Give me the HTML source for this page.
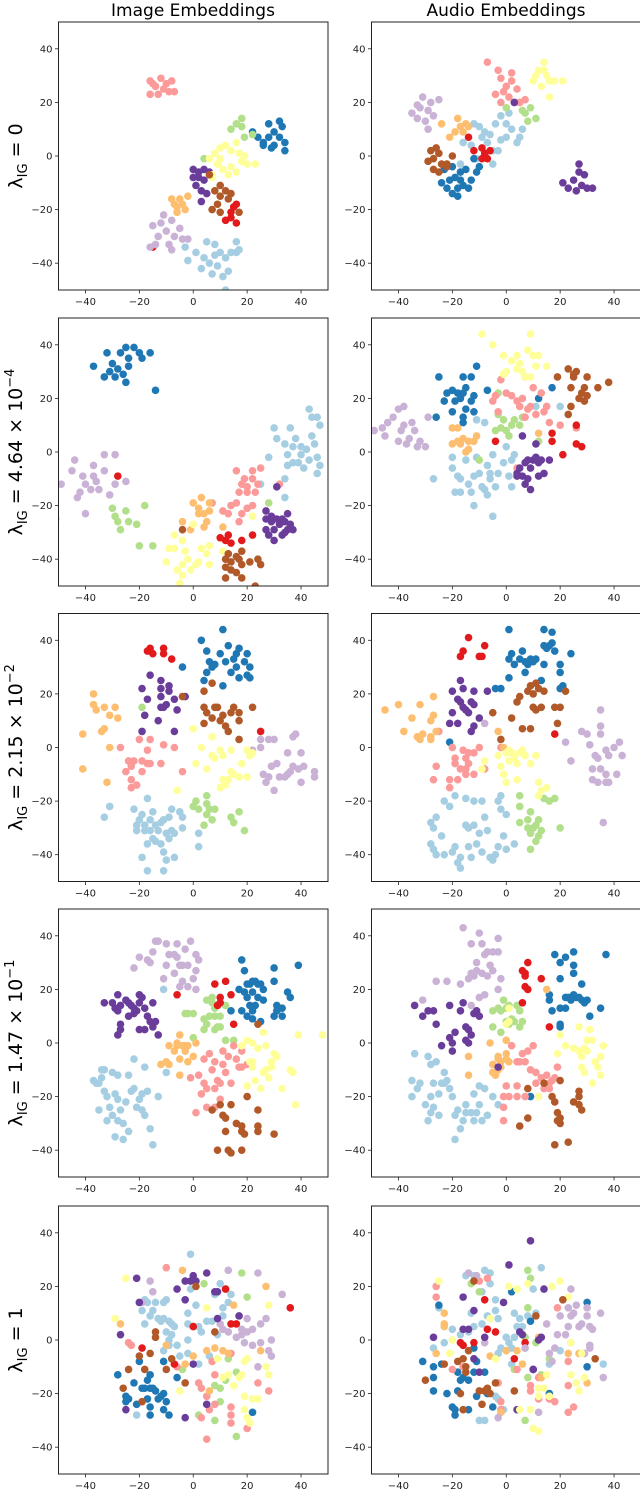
<!DOCTYPE html>
<html><head><meta charset="utf-8">
<style>
html,body{margin:0;padding:0;background:#fff;}
svg{display:block;font-family:"DejaVu Sans","Liberation Sans",sans-serif;}
</style></head>
<body>
<svg id="fig" width="640" height="1490" viewBox="0 0 640 1490" xmlns="http://www.w3.org/2000/svg">
<text x="193" y="16" font-size="17" text-anchor="middle" fill="#000">Image Embeddings</text>
<text x="506" y="16" font-size="17" text-anchor="middle" fill="#000">Audio Embeddings</text>
<g id="panels"></g>
</svg>
<script>
// class labels and colours (Paired colormap)
const classes = ['c0','c1','c2','c3','c4','c5','c6','c7','c8','c9'];
const classColors = ['#a6cee3','#1f78b4','#b2df8a','#fb9a99','#e31a1c','#fdbf6f','#cab2d6','#6a3d9a','#ffff99','#b15928'];
const tickValues = [-40,-20,0,20,40];
const tickLabels = ['\u221240','\u221220','0','20','40'];
const axisMin = -50, axisMax = 50;
const rowLabels = [['0',''],['4.64 \u00d7 10','\u22124'],['2.15 \u00d7 10','\u22122'],['1.47 \u00d7 10','\u22121'],['1','']];
// order: lightblue, blue, lightgreen, pink, red, lightorange, lavender, purple, yellow, brown
const img0 = [
"-3,-34 1,-36 3,-42 4,-38 5,-32 6,-40 8,-33 8,-37 10,-36 9,-41 12,-38 14,-36 16,-32 16,-36 13,-43 11,-45 -2,-39 7,-44 12,-50 17,-35",
"22,9 24,7 26,5 28,7 28,12 30,9 32,13 33,11 34,5 34,2 30,4 32,7 26,4 29,3",
"14,10 16,12 18,14 18,11 19,7 4,-1 22,8",
"-16,28 -14,26 -12,29 -10,27 -9,24 -13,23 -16,23 -8,28 -11,25 -7,24 -15,27",
"12,-24 14,-21 15,-19 16,-25 14,-23 16,-18 -15,-34",
"-8,-16 -6,-19 -4,-18 -2,-15 -3,-20 -6,-21 -5,-16 -7,-18",
"-15,-26 -12,-25 -10,-28 -8,-24 -7,-30 -5,-27 -9,-33 -8,-35 -13,-30 -16,-34 -14,-33 -2,-31 -4,-31 -11,-22",
"0,-5 2,-8 1,-11 3,-13 4,-5 6,-6 4,-9 2,-6 0,-8 5,-14 3,-17",
"6,-1 8,1 10,3 12,4 14,2 16,5 17,1 18,-2 20,-3 23,-3 14,-4 11,-5 9,-3 7,-7 13,-7 16,-6 19,0 10,-1 7,-8",
"6,-7 8,-13 10,-15 12,-13 14,-14 9,-18 10,-21 7,-20 10,-11 17,-21 13,-16"];
const aud0 = [
"-12,12 -10,11 -8,9 -6,8 -4,12 -2,15 0,12 2,10 -2,6 0,7 4,5 5,7 -5,2 -3,2 -9,7 -13,4 -16,5 -7,5 -11,-1 -5,-3 -17,-3 1,16 6,10",
"-20,-4 -19,-8 -17,-6 -15,-5 -13,-9 -14,-12 -16,-11 -18,-12 -20,-14 -22,-12 -21,-9 -18,-15 -24,-10 -12,-1 -10,-4 -11,-6 -23,-5 -17,-9",
"0,18 5,20 7,16 9,18 8,13 11,14 6,17",
"-7,35 -3,32 -2,29 0,26 2,28 4,25 1,22 -1,24 -4,23 3,20 5,20 7,21 -2,20 2,31",
"-14,7 -12,2 -9,3 -8,1 -7,-1 -9,-1 -6,2",
"-18,14 -17,11 -15,12 -19,9 -16,9 -21,7 -14,11 -24,12",
"-35,16 -33,19 -31,22 -29,17 -27,15 -30,13 -33,14 -28,20 -25,21 -29,10 -32,18",
"21,-10 23,-12 25,-9 27,-6 29,-7 28,-11 26,-13 30,-12 32,-12 27,-3 3,20",
"10,28 12,32 14,35 15,30 16,28 13,26 18,28 21,28 16,22 11,30 14,32",
"-28,2 -26,3 -25,1 -27,-1 -29,-2 -24,-3 -22,-3 -27,-5 -20,0 -25,-6 -22,-4"];
const img1 = [
"28,-2 30,9 31,5 34,3 35,-1 36,9 38,5 37,2 39,-4 40,-1 41,-6 42,1 43,16 44,13 45,3 46,13 46,-2 47,-5 47,10 46,-8 37,-4 35,-5 40,2 44,6 43,-3 34,-17 34,-10 25,-12",
"-37,32 -32,37 -30,33 -28,31 -27,37 -25,39 -24,35 -22,39 -20,37 -19,35 -16,37 -25,26 -26,29 -29,28 -31,30 -33,28 -14,23 -24,32",
"-30,-21 -29,-24 -28,-26 -27,-29 -25,-22 -24,-26 -21,-27 -20,-35 -18,-20 -15,-35 28,-19",
"16,-7 17,-15 18,-12 19,-10 20,-13 20,-15 22,-7 22,-10 23,-15 24,-12 25,-6 14,-20 16,-19 18,-23 20,-21 17,-26 7,-19 22,-20 13,-23 32,-12 11,-22",
"-28,-9 10,-32 12,-33 13,-31 18,-33 22,-31 14,-34",
"0,-19 2,-21 2,-23 3,-17 4,-23 5,-26 6,-19 6,-22 -4,-26 4,-28 -1,-29 11,-28",
"-49,-12 -45,-7 -44,-3 -42,-15 -41,-9 -40,-12 -38,-14 -37,-5 -36,-11 -35,-14 -33,-1 -33,-7 -31,-16 -29,-1 -29,-12 -25,-11 -40,-23 -51,-25 -37,-9 -43,-17",
"27,-22 27,-25 29,-26 30,-29 31,-25 32,-27 33,-25 34,-26 35,-23 35,-29 36,-27 37,-29 27,-29 28,-31 29,-24 33,-31 31,-13 30,-33 34,-30",
"-9,-36 -7,-36 -10,-41 -6,-44 -5,-49 -4,-42 -3,-37 -2,-40 -1,-44 0,-27 1,-42 2,-41 3,-36 5,-38 6,-35 6,-42 -7,-31 -4,-33 11,-37 22,-24 -4,-46",
"-4,-29 12,-40 13,-38 14,-41 16,-39 17,-40 18,-37 14,-44 12,-47 16,-45 18,-47 21,-41 24,-40 25,-42 23,-50 18,-42 12,-43"];
const aud1 = [
"-20,-2 -20,-6 -18,-9 -19,-15 -17,-15 -17,-10 -15,-3 -13,-15 -12,-9 -11,-2 -10,-8 -9,-13 -8,-14 -7,-16 -7,-5 -6,-10 -5,-1 -4,-13 -3,-8 -1,-4 0,2 1,-9 2,-13 3,-1 -12,-20 -5,-24 -14,-12 -6,-8 -27,-10 2,-3 11,17 20,17 -8,11 -11,12",
"-25,28 -23,19 -22,22 -20,23 -19,19 -18,22 -16,22 -16,28 -16,13 -15,16 -13,28 -12,21 -12,15 -11,32 -17,20 -20,15 -15,24 -13,19 -7,23 12,20 17,24 -26,13 -16,11",
"-3,22 -3,14 -2,9 -1,12 0,8 1,6 2,10 3,12 5,10 6,13 -4,8 -10,-3 12,4",
"-2,27 0,22 2,21 4,19 5,17 6,20 7,13 8,16 9,17 11,14 13,22 14,15 15,17 16,11 20,10 26,9 -5,19 -3,15 4,-6 -4,21 7,28 10,24",
"-4,4 17,7 17,4 21,-1 26,10 26,3 28,2",
"-20,9 -18,9 -18,4 -16,5 -14,4 -12,4 -11,6 -20,3 -17,3 -14,1 -15,0 12,7",
"-46,9 -44,11 -42,13 -40,16 -39,8 -38,10 -37,3 -36,5 -35,11 -34,8 -33,2 -32,4 -30,2 -29,13 -40,4 -49,8 -45,6 -38,17",
"4,-8 5,-6 6,-9 7,-4 8,-10 9,-6 10,-3 11,-2 12,-4 13,-3 7,-12 9,-14 4,-9 8,-3 12,-9 14,-8 16,-3 11,3 6,6",
"-9,44 -5,40 -1,36 0,30 2,34 4,36 5,33 6,30 7,28 8,38 9,44 10,36 11,32 12,36 9,28 15,32 -1,29 4,31",
"23,31 25,28 24,24 26,30 29,24 30,28 30,21 29,19 28,22 34,24 38,26 24,17 19,28 23,14 27,20 25,29"];
const img2 = [
"-33,-26 -31,-22 -22,-23 -21,-29 -21,-31 -20,-27 -19,-25 -18,-29 -17,-19 -16,-31 -16,-27 -15,-24 -15,-34 -14,-29 -13,-31 -12,-36 -11,-39 -10,-42 -10,-32 -9,-26 -8,-23 -8,-31 -7,-32 -7,-41 -5,-24 -4,-26 -4,-30 -11,-27 -14,-35 -17,-36 -18,-31 -19,-41 -17,-46 -11,-46 2,-32 2,-37 -12,-28 -9,-34",
"3,40 5,36 5,28 6,32 7,30 8,31 10,35 11,44 12,32 13,38 14,28 15,33 16,35 17,37 16,30 17,26 19,32 20,35 20,27 21,30 21,26 11,23 4,25 -4,30",
"-19,15 1,-20 5,-18 5,-21 6,-23 5,-25 7,-27 8,-23 4,-29 2,-23 14,-26 15,-28 17,-24 19,-31 0,-22",
"-27,0 -25,-9 -24,-5 -23,-7 -23,-12 -22,-5 -21,-14 -20,3 -19,-5 -19,-9 -17,-6 -16,3 -16,-6 -17,-1 -12,-6 -11,1 -7,0 -4,-9 -23,-15",
"-17,36 -16,37 -15,35 -11,37 -11,35 -8,33 25,6",
"-41,5 -37,20 -37,16 -36,14 -34,6 -33,7 -33,15 -31,12 -29,15 -28,11 -31,0 -32,-13 -41,-8",
"25,3 28,3 30,3 29,-7 28,-11 26,-10 27,-13 31,-6 32,-11 34,-11 35,-10 36,-9 37,4 38,5 40,-2 39,-8 40,-13 37,-7 41,-7 45,-9 45,-11 35,-2 30,-16 25,0 22,-1",
"-16,27 -19,22 -17,18 -12,25 -12,22 -12,19 -12,15 -11,15 -9,23 -9,21 -7,18 -6,14 -18,12 -13,10 -19,6 -7,6 -3,19 -10,16",
"0,7 3,0 1,-6 5,-8 7,4 7,-3 10,-1 11,-3 11,-12 12,-14 13,-12 14,-9 14,-1 15,-10 17,-11 18,-6 20,-1 20,-11 21,-3 10,-15 -6,-16 22,-2 8,-4",
"-4,19 4,21 4,15 5,13 4,9 7,11 7,24 8,15 9,15 10,10 11,12 12,8 13,6 14,13 15,15 17,13 17,10 22,15 17,3"];
const aud2 = [
"-28,-36 -27,-38 -27,-30 -26,-26 -24,-33 -23,-20 -21,-22 -20,-39 -19,-37 -19,-18 -18,-43 -17,-41 -15,-19 -15,-29 -14,-37 -14,-30 -12,-20 -11,-36 -10,-32 -9,-39 -9,-20 -8,-26 -7,-31 -6,-41 -5,-42 -4,-40 -3,-37 -2,-18 -2,-23 -3,-20 -1,-33 0,-25 0,-38 3,-36 -28,-28 -17,-45 -13,-41 -26,-40 -12,-29 -23,-40",
"1,44 1,33 2,35 3,31 5,33 6,36 7,32 8,31 9,33 10,32 11,33 14,44 14,38 14,31 15,37 16,38 17,39 17,43 18,36 20,31 20,22 21,23 20,28 24,35 -2,22 -4,22 -21,2 7,28 13,25 1,26",
"5,-18 5,-22 5,-28 8,-27 9,-24 9,-32 10,-30 11,-35 12,-27 12,-33 14,-19 13,-31 9,-38 18,-19 16,-20 20,-30 11,-29 8,-30",
"-25,6 -20,0 -19,-4 -19,-6 -18,-12 -17,-8 -15,-8 -15,-10 -14,-2 -14,-6 -12,-2 -12,-10 -10,0 -8,-8 -2,0 -26,-7 -27,-12 -21,-12 -21,-15 -16,-1 -15,-4",
"-17,34 -16,36 -14,41 -10,34 -9,34 -8,38 18,5",
"-45,14 -40,16 -38,6 -35,11 -32,16 -32,3 -31,5 -28,10 -28,4 -27,12 -27,19 -26,6 -3,6 -1,0 -28,3 -33,4",
"-8,9 28,6 30,5 31,1 35,5 35,8 35,14 37,-1 38,-3 33,-3 34,-4 32,-8 35,-8 37,-10 37,-13 32,-12 34,-13 38,-13 40,0 42,2 43,-3 41,-10 36,-28 24,-5 22,2",
"-20,21 -17,25 -16,22 -18,18 -17,17 -16,15 -15,14 -14,13 -12,21 -13,17 -12,8 -13,6 -18,9 -21,9 -20,13 -10,11 -7,21 -12,16",
"-8,-5 -9,-8 -3,-3 -1,-10 0,-2 1,-5 2,-2 3,-4 4,-6 5,-2 6,-1 7,-3 9,-6 11,-3 12,-13 13,-16 12,-18 15,-15 4,-12 0,-13 1,-1 -2,-7",
"-5,13 -2,3 2,11 4,17 5,19 8,21 9,23 10,20 11,24 12,22 13,15 10,15 11,14 9,7 6,7 14,21 18,15 20,15 22,21 19,9"];
const img3 = [
"-11,20 -3,-3 -10,-11 -22,-6 -18,-9 -17,-18 -19,-19 -20,-21 -21,-24 -23,-18 -25,-22 -26,-30 -27,-25 -28,-29 -29,-35 -28,-21 -29,-19 -30,-27 -31,-24 -32,-20 -33,-18 -34,-13 -35,-15 -36,-15 -37,-14 -34,-10 -33,-10 -30,-11 -28,-12 -24,-12 -22,-17 -19,-25 -18,-27 -16,-32 -13,-20 -15,-38 -35,-25 -24,-33 -26,-36 -32,-29",
"18,31 19,27 20,22 21,22 22,23 23,23 24,22 25,22 26,20 20,17 21,14 22,12 20,10 22,9 23,14 26,16 30,28 30,23 31,14 31,12 33,10 33,13 35,19 36,17 39,29 19,19 18,12 25,8 14,12 17,20 30,10 24,17 22,19",
"-3,11 -2,11 0,11 0,2 4,5 4,9 5,7 6,10 7,17 7,15 8,13 8,10 9,6 10,10 10,6 12,1 15,1 12,14 5,16 8,5",
"-1,-13 2,-12 4,-15 5,-17 6,-4 7,-10 8,-17 8,-7 9,-14 10,-15 11,-3 11,-8 12,-11 13,-5 14,-15 15,-1 16,-6 17,-9 18,-3 18,-9 20,-8 1,-26 5,-24 8,-24 10,-21 3,-19 4,-6",
"-6,18 8,22 9,14 10,15 12,23 14,18 15,7 10,17",
"-12,-8 -10,-7 -9,-8 -7,-3 -6,-1 -5,-6 -4,-1 -2,-1 -5,3 -6,0 -5,-12 -3,-1 1,0 0,-5 -2,-7 -9,-1 -3,-3",
"-20,32 -17,31 -16,30 -15,34 -14,38 -13,38 -11,24 -10,29 -9,33 -7,26 -7,33 -6,37 -5,29 -4,29 -3,35 -2,29 -1,38 1,33 1,27 2,31 -2,21 1,20 -4,23 -22,28 -5,21 0,24 -10,37 -6,32",
"-33,15 -30,15 -29,13 -28,12 -28,18 -27,14 -25,16 -24,15 -23,14 -22,13 -21,12 -20,15 -20,18 -19,17 -18,13 -15,15 -17,10 -24,10 -27,5 -28,3 -27,7 -20,5 -18,5 -15,6 -16,8 -14,8 -13,3 -22,11",
"18,-1 20,1 21,-7 22,0 22,-9 23,-14 24,-2 25,-17 26,-11 27,-1 28,-13 29,-7 29,-9 30,-4 31,-5 33,-17 36,-10 37,-11 38,-23 39,3 48,3 26,4 20,-16 22,-7 27,-10",
"24,7 7,-25 10,-23 11,-27 12,-28 12,-33 13,-40 9,-40 14,-41 16,-30 18,-31 18,-33 20,-20 18,-40 19,-34 24,-25 24,-31 24,-33 30,-34 14,-23"];
const aud3 = [
"-35,-14 -35,-20 -33,-17 -30,-23 -29,-29 -28,-26 -28,-20 -27,-24 -25,-27 -25,-19 -24,-15 -23,-11 -22,-14 -20,-20 -19,-27 -18,-25 -17,-32 -16,-29 -15,-26 -15,-23 -13,-26 -12,-29 -11,-26 -10,-23 -10,-16 -9,-29 -8,-17 -7,-27 -5,-20 -3,-23 -19,-36 -29,-5 -28,-8 -27,-15 -32,-15 -23,-15 -34,-4 -12,-19 -21,-17 -26,-7",
"18,33 20,30 22,32 20,24 25,34 25,29 25,26 23,17 24,16 25,18 26,17 27,17 28,16 29,15 28,22 30,16 16,16 17,12 20,13 22,17 20,7 20,6 35,13 31,10 37,33 9,-20 16,18 22,13",
"-5,12 -3,13 -2,12 -1,16 0,13 1,14 1,7 2,9 4,14 5,6 5,12 6,8 -5,6 0,8 -2,4 3,8",
"2,-1 4,-7 5,-7 6,-4 7,-7 8,-3 9,-10 10,-1 11,-15 13,-13 14,-17 15,-12 16,-15 17,-14 18,-13 16,-17 12,-20 7,-20 4,-16 0,-16 -1,-20 -1,-24 -1,-29 4,-20 1,-20 11,-11 19,-9",
"6,27 7,26 7,25 8,30 8,20 7,21 13,24 6,15 16,6",
"-6,0 -3,-6 -3,-5 -2,-7 -3,-10 -4,-12 -5,-11 0,-4 0,-6 0,1 -14,-5 -14,-12 -5,-8 1,-7 15,20 -2,-9",
"-16,43 -13,37 -11,30 -10,41 -9,37 -8,33 -7,34 -6,29 -5,34 -3,39 -3,34 -2,24 -5,27 -7,25 -9,26 -11,27 -12,25 -13,26 -14,24 -17,22 -26,23 -22,23 -8,18 -10,17 -31,16 -3,20 -13,14",
"-34,14 -31,10 -29,12 -27,12 -26,7 -24,-1 -21,2 -20,0 -20,-3 -19,4 -17,12 -16,15 -15,6 -15,1 -14,5 -12,11 -11,12 -10,10 -14,0 -21,14 -3,-9 -13,3",
"1,13 1,8 0,7 12,-20 20,3 19,-4 25,-2 27,-3 28,-5 28,-9 29,-11 29,-2 30,1 31,5 32,1 33,-7 34,-9 35,-5 35,-12 36,-1 32,-15 27,6 30,-3 22,-1",
"8,-17 8,-28 5,-31 14,-15 17,-20 18,-22 20,-14 19,-26 20,-28 20,-30 25,-22 27,-18 27,-23 28,-25 18,-38 23,-37 19,-29 27,-20"];
const img4 = [
"-1,32 -20,14 -19,11 -18,15 -18,6 -17,14 -16,9 -14,14 -13,8 -12,7 -11,14 -11,8 -10,15 -10,3 -9,7 -8,6 -8,2 -7,5 -3,15 -2,10 -2,6 -1,19 0,5 1,13 2,5 3,3 5,7 6,-6 7,7 8,17 9,2 10,21 11,12 11,9 13,14 14,17 -11,-4 -9,-2 -9,0 -2,0 -5,-6 -21,-28 -2,-5 2,-9 -15,11 -6,-2",
"-28,-13 -25,-21 -25,-23 -24,-22 -22,-16 -21,-24 -20,-8 -19,-18 -18,-18 -17,-15 -17,-22 -16,-18 -16,-25 -16,-28 -15,-18 -14,-19 -13,-22 -12,-21 -11,-20 -11,-26 -11,-8 -10,-23 -9,-28 -6,-14 -16,-13 22,-27",
"4,21 12,19 18,25 20,16 -4,-11 8,-17 10,-18 12,-15 13,-7 16,-12 10,-23 8,-30 16,-36 2,-28",
"-10,27 -24,-1 -23,-2 7,-8 2,-16 3,-18 5,-21 8,-13 8,-24 6,-26 14,-25 14,-28 14,-31 20,-33 24,-16 28,-19 3,-29 5,-37 14,-5 -6,-10",
"-19,-3 -7,-9 0,5 12,19 14,6 16,6 36,12",
"-4,26 -27,6 -10,-2 0,-6 5,-4 8,-3 11,-4 13,-5 15,13 27,20 25,-4 -3,-9 6,-19",
"-19,14 -16,22 -15,18 13,26 24,25 22,-2 10,6 11,4 13,3 16,1 17,9 18,4 19,-1 20,3 20,8 22,4 25,6 27,8 29,0 28,-4 29,-6 33,17 24,-10 25,-1 18,2",
"-21,23 -20,14 -27,2 -25,-26 -3,22 -1,22 0,24 5,25 -6,19 -3,15 9,18 9,8 17,9 -3,-29 0,-9 5,-24 8,18 1,22",
"-25,23 -29,8 5,12 9,-7 11,-14 13,-13 15,-17 18,-13 19,-8 20,-7 19,-21 20,-29 21,-31 19,-26 22,-22 24,-22 27,-10 28,-13 28,13 -5,-19 17,-14",
"-20,-6 -16,-5 -14,3 -14,1 -10,-11 -8,-7 -18,-11 -24,-11 -19,-23 -26,-18 -3,-16 8,3 1,20"];
const aud4 = [
"-15,24 -12,24 -8,26 -6,25 -6,21 -9,18 -4,15 -4,11 -3,8 -7,9 -9,6 -12,5 -13,10 -14,3 -17,2 -20,4 -27,-3 1,-1 0,1 3,1 4,5 5,8 6,5 8,9 9,8 10,19 11,10 13,27 -3,-5 -2,-3 0,-4 2,-9 -4,-21 -3,-22 -1,-26 -10,-30 -8,-30 36,-9 20,-4 -23,-1 -25,12 2,-3 3,10 16,-9",
"-31,-8 -27,-10 -27,-14 -27,-19 -25,13 -24,-9 -22,-20 -20,-25 -19,-26 -19,-28 -18,-19 -18,-12 -17,-15 -16,-14 -14,-15 -14,-26 -12,-3 -12,-12 -11,-8 -11,-21 -8,-12 -7,-20 -5,-25 2,18 9,7 30,-10 30,14 16,-20",
"-13,21 -10,18 8,26 9,23 8,12 8,-14 7,-30 3,-11 7,-3 13,-13 16,-7 7,1 11,-1",
"-26,20 -26,16 -20,-11 -16,-10 -10,22 -7,23 -3,-16 -2,-23 -2,-26 4,-11 9,-19 9,-17 12,-14 12,-22 16,-22 18,-23 19,12 23,-17 23,-27 23,-8 25,-25 13,-14",
"-17,-1 -16,-2 -12,-1 -8,15 -4,3 -7,4 3,-7 7,-1",
"-23,10 -23,6 -23,5 -26,-5 -6,-6 0,-4 4,-4 6,-9 12,1 -2,-27 23,-5 27,-5 30,-16 13,-14",
"-14,25 -11,24 15,6 12,-27 16,-5 17,-8 19,2 20,9 22,2 23,5 23,12 24,9 24,-1 25,10 27,5 28,6 29,-5 30,12 30,9 31,5 31,-2 31,-3 32,4 35,10 36,-14 24,19 -3,-29 -8,-1 7,-3 26,13 18,-3",
"-27,1 -16,16 -16,4 -14,4 -12,-7 -12,11 -8,1 -10,-12 -1,14 1,28 5,3 6,2 9,37 10,-11 12,0 14,19 13,1 4,-26 10,-11",
"-25,22 -20,0 -21,-5 -6,8 -4,-7 1,20 4,19 8,21 12,-18 12,-21 14,-18 15,-13 16,-21 17,20 20,22 23,16 24,-13 26,-16 27,-19 29,-14 10,-33 5,-26 9,-26 12,-34 28,-5 24,-1",
"-30,-15 -23,-9 -18,-8 -16,-7 -15,-10 -15,-12 -14,-4 -12,22 -10,-19 -8,-19 -6,-20 -4,-16 3,-19 -17,-20 -9,-24 -16,-26 11,9 21,15 33,-7 -7,-18"];

const panelData = [[img0,aud0],[img1,aud1],[img2,aud2],[img3,aud3],[img4,aud4]];
const rowTops = [22,318,613.5,909,1206];
const colLefts = [58.5,371.5];
const AX = 269.5, AY = 268;
const NS = 'http://www.w3.org/2000/svg';
const root = document.getElementById('panels');
function mk(tag, attrs, parent){const e=document.createElementNS(NS,tag);for(const k in attrs)e.setAttribute(k,attrs[k]);parent.appendChild(e);return e;}

rowLabels.forEach((rl, r) => {
  const cy = rowTops[r] + AY/2;
  const t = mk('text', {x:0,y:0,'font-size':19,'text-anchor':'middle',transform:`translate(22,${cy}) rotate(-90)`,fill:'#000'}, root);
  
  
  const a = mk('tspan', {}, t); a.textContent = '\u03bb';
  const b = mk('tspan', {'font-size':13, dy:5}, t); b.textContent = 'IG';
  const c = mk('tspan', {dy:-5}, t); c.textContent = ' = ' + rl[0];
  if (rl[1]) { const d = mk('tspan', {'font-size':13, dy:-8}, t); d.textContent = rl[1]; }
});

panelData.forEach((pair, r) => {
  pair.forEach((data, c) => {
    const x0 = colLefts[c], y0 = rowTops[r];
    const sx = v => x0 + (v - axisMin) / (axisMax - axisMin) * AX;
    const sy = v => y0 + AY - (v - axisMin) / (axisMax - axisMin) * AY;
    const g = mk('g', {}, root);
    
    
    const cid = 'clip' + r + c;
    const cp = mk('clipPath', {id:cid}, g);
    mk('rect', {x:x0, y:y0, width:AX, height:AY}, cp);
    const pts = mk('g', {'clip-path':`url(#${cid})`}, g);
    data.forEach((s, k) => {
      s.trim().split(/\s+/).forEach(p => {
        const [vx, vy] = p.split(',').map(Number);
        const dot = mk('circle', {cx:sx(vx), cy:sy(vy), r:3.8, fill:classColors[k]}, pts);
        
        
      });
    });
    const frame = mk('rect', {x:x0, y:y0, width:AX, height:AY, fill:'none', stroke:'#222', 'stroke-width':1}, g);
    
    
    tickValues.forEach((tv, i) => {
      const X = sx(tv), Y = sy(tv);
      mk('line', {x1:X, x2:X, y1:y0+AY, y2:y0+AY+3.5, stroke:'#222', 'stroke-width':0.8}, g);
      const tx = mk('text', {x:X, y:y0+AY+15, 'font-size':10, 'text-anchor':'middle', fill:'#222'}, g);
      
      
      tx.textContent = tickLabels[i];
      mk('line', {x1:x0-3.5, x2:x0, y1:Y, y2:Y, stroke:'#222', 'stroke-width':0.8}, g);
      const ty = mk('text', {x:x0-6, y:Y+3.5, 'font-size':10, 'text-anchor':'end', fill:'#222'}, g);
      
      
      ty.textContent = tickLabels[i];
    });
  });
});
</script>
</body></html>
